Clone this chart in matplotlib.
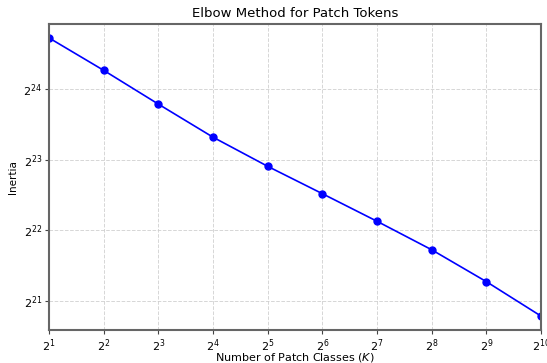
import matplotlib
matplotlib.use("Agg")
import matplotlib.pyplot as plt

# K values tried and the resulting k-means inertia on patch tokens
K_VALUES = [2, 4, 8, 16, 32, 64, 128, 256, 512, 1024]
INERTIA = [27.70e6, 20.15e6, 14.47e6, 10.46e6, 7.86e6,
           6.01e6, 4.585e6, 3.467e6, 2.536e6, 1.809e6]


def main():
    fig = plt.figure(figsize=(5.47, 3.63), dpi=100)
    ax = fig.add_axes([0.0896, 0.0909, 0.8995, 0.8430])

    ax.plot(K_VALUES, INERTIA, color="blue", marker="o", markersize=5,
            linewidth=1.2)
    ax.set_xscale("log", base=2)
    ax.set_yscale("log", base=2)
    ax.set_xticks(K_VALUES)
    ax.set_xlim(K_VALUES[0], K_VALUES[-1])

    ax.grid(True, linestyle="--", color="#cccccc", linewidth=0.7, alpha=0.8)
    for side in ax.spines.values():
        side.set_color("#666666")
        side.set_linewidth(1.5)
    ax.tick_params(labelsize=8, length=3, width=0.8, color="#444444", pad=2)

    ax.set_title("Elbow Method for Patch Tokens", fontsize=9.5, pad=5)
    ax.set_xlabel("Number of Patch Classes ($K$)", fontsize=8, labelpad=-2)
    ax.set_ylabel("Inertia", fontsize=7.5)

    fig.savefig("out.png", dpi=100)
    plt.close(fig)


if __name__ == "__main__":
    main()
